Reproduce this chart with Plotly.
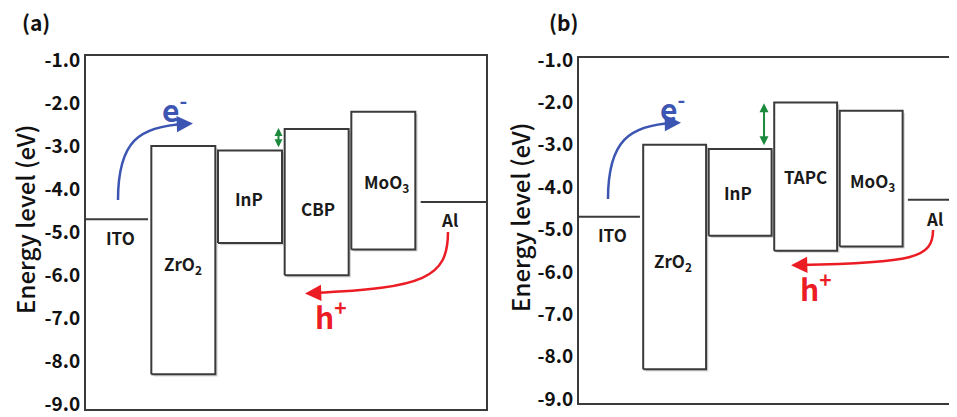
import plotly.graph_objects as go

# ---------------- data ----------------
materials_a = ["ITO", "ZrO2", "InP", "CBP", "MoO3", "Al"]
upper_a = [-4.7, -3.0, -3.1, -2.6, -2.2, -4.3]     # LUMO / work function (eV)
lower_a = [None, -8.3, -5.25, -6.0, -5.4, None]    # HOMO (eV)

materials_b = ["ITO", "ZrO2", "InP", "TAPC", "MoO3", "Al"]
upper_b = [-4.7, -3.0, -3.1, -2.0, -2.2, -4.3]
lower_b = [None, -8.3, -5.15, -5.5, -5.4, None]

y_ticks = [-1.0, -2.0, -3.0, -4.0, -5.0, -6.0, -7.0, -8.0, -9.0]
y_tick_labels = ["-1.0", "-2.0", "-3.0", "-4.0", "-5.0", "-6.0", "-7.0", "-8.0", "-9.0"]

label_html = {"ZrO2": "ZrO<sub>2</sub>", "MoO3": "MoO<sub>3</sub>"}

FONT = "Noto Sans CJK KR, Noto Sans, Arial, sans-serif"
LINE = "#3a3a3a"
BLUE = "#3c55b3"
RED = "#ec1c24"
GREEN = "#1b8a3c"

# page body has an 8px default margin; size the figure to the visible window
OFF = 8
FW, FH = 957 - OFF, 417 - OFF


def fx(px):
    return (px - OFF) / FW


def fy(py):
    return 1 - (py - OFF) / FH


# screen-pixel -> data helpers for decorations (arrows) in each panel
def pa(px, py):
    return ((px - 86) / 66.67, -1 - (py - 60) / 43.06)


def pb(px, py):
    return ((px - 579) / 65.5, -1 - (py - 60) / 42.375)


RANGE_A = [pa(0, 409)[1], pa(0, 56)[1]]
RANGE_B = [pb(0, 403)[1], pb(0, 58)[1]]

fig = go.Figure()


def add_panel(xr, yr, upper, lower, xmax, sdx, sdy):
    n = len(upper)
    for i in range(n):
        if lower[i] is None:
            if i == 0:
                x0, x1 = 0.0, 0.93
            else:
                x0, x1 = i + 0.02, xmax
            fig.add_trace(go.Scatter(x=[x0, x1], y=[upper[i], upper[i]], mode="lines",
                                     line=dict(color=LINE, width=2), xaxis=xr, yaxis=yr,
                                     hoverinfo="skip", showlegend=False))
        else:
            x0, x1 = i - 0.02, i + 0.94
            t, b = upper[i], lower[i]
            fig.add_trace(go.Scatter(x=[x0 + sdx, x1 + sdx, x1 + sdx, x0 + sdx, x0 + sdx],
                                     y=[b - sdy, b - sdy, t - sdy, t - sdy, b - sdy],
                                     mode="lines", fill="toself", fillcolor="rgba(0,0,0,0.16)",
                                     line=dict(width=0, color="rgba(0,0,0,0)"), xaxis=xr, yaxis=yr,
                                     hoverinfo="skip", showlegend=False))
            fig.add_trace(go.Scatter(x=[x0, x1, x1, x0, x0], y=[b, b, t, t, b], mode="lines",
                                     fill="toself", fillcolor="white",
                                     line=dict(color=LINE, width=2), xaxis=xr, yaxis=yr,
                                     hoverinfo="skip", showlegend=False))


add_panel("x", "y", upper_a, lower_a, 6.0, 0.035, 0.05)
add_panel("x2", "y2", upper_b, lower_b, 5.77, 0.035, 0.05)

axis_common = dict(showgrid=False, zeroline=False, showline=True, linecolor=LINE, linewidth=2,
                   ticks="", fixedrange=True, automargin=False)
tickfont = dict(family=FONT, size=19, color="#111")

fig.update_layout(
    width=FW, height=FH,
    margin=dict(l=0, r=0, t=0, b=0, pad=0, autoexpand=False),
    paper_bgcolor="white", plot_bgcolor="white",
    showlegend=False,
    xaxis=dict(domain=[fx(86), fx(486)], range=[0, 6], mirror=True, showticklabels=False,
               anchor="y", **axis_common),
    yaxis=dict(domain=[fy(409), fy(56)], range=RANGE_A, mirror=True, anchor="x",
               tickvals=y_ticks, ticktext=["<b>%s</b>" % t for t in y_tick_labels],
               tickfont=tickfont, ticklabeloverflow="allow", **axis_common),
    xaxis2=dict(domain=[fx(579), 1.0], range=[0, 5.77], mirror=True, showticklabels=False,
                anchor="y2", **axis_common),
    yaxis2=dict(domain=[fy(403), fy(58)], range=RANGE_B, mirror=False, anchor="x2",
                tickvals=y_ticks, ticktext=["<b>%s</b>" % t for t in y_tick_labels],
                tickfont=tickfont, ticklabeloverflow="allow", **axis_common),
)

ann = []


def text_px(px, py, txt, size=17, color="#1a1a1a", angle=0, weight=None):
    font = dict(family=FONT, size=size, color=color)
    if weight is not None:
        font["weight"] = weight
    ann.append(dict(x=fx(px), y=fy(py), xref="paper", yref="paper", text=txt,
                    showarrow=False, textangle=angle, xanchor="center", yanchor="middle",
                    borderpad=0, font=font))


# panel letters and axis titles
text_px(36, 22, "<b>(a)</b>", 21, "#111")
text_px(563, 22, "<b>(b)</b>", 21, "#111")
text_px(25, 220, "Energy level (eV)", 24, "#111", -90, 500)
text_px(519, 218, "Energy level (eV)", 24, "#111", -90, 500)

# layer labels panel a
lab_a = [(120, 237), (183, 264), (249, 198), (318, 208), (386, 183), (449, 219)]
for m, (px, py) in zip(materials_a, lab_a):
    text_px(px, py, "<b>%s</b>" % label_html.get(m, m), 17)
# layer labels panel b
lab_b = [(612, 234), (673, 261), (738, 193), (805, 177), (872, 181), (934, 218)]
for m, (px, py) in zip(materials_b, lab_b):
    text_px(px, py, "<b>%s</b>" % label_html.get(m, m), 17)

# carrier labels
text_px(174, 108, "<b>e<sup>-</sup></b>", 30, BLUE)
text_px(331, 315, "<b>h<sup>+</sup></b>", 30, RED)
text_px(672, 107, "<b>e<sup>-</sup></b>", 30, BLUE)
text_px(816, 287, "<b>h<sup>+</sup></b>", 30, RED)

shapes = []


def curve(xr, yr, conv, p0, c1, c2, p1, color):
    pts = [conv(*p) for p in (p0, c1, c2, p1)]
    flat = tuple(v for p in pts for v in p)
    shapes.append(dict(type="path", xref=xr, yref=yr,
                       path="M %f,%f C %f,%f %f,%f %f,%f" % flat,
                       line=dict(color=color, width=2.5)))


def head(xr, yr, conv, tip, tail, color):
    t = conv(*tip)
    a = conv(*tail)
    ann.append(dict(x=t[0], y=t[1], ax=a[0], ay=a[1], xref=xr, yref=yr,
                    axref=xr, ayref=yr, text="", showarrow=True, arrowhead=2,
                    arrowsize=1.3, arrowwidth=2.5, arrowcolor=color))


# panel a electron / hole paths
curve("x", "y", pa, (118, 200), (118, 141), (139, 126), (186, 124), BLUE)
head("x", "y", pa, (193, 123.6), (182, 124), BLUE)
curve("x", "y", pa, (448, 232), (448, 278), (424, 288), (314, 293), RED)
head("x", "y", pa, (305, 293.4), (316, 293), RED)

# panel b electron / hole paths
curve("x2", "y2", pb, (608, 199), (608, 140), (630, 125), (674, 123), BLUE)
head("x2", "y2", pb, (681, 122.8), (670, 123), BLUE)
curve("x2", "y2", pb, (933, 230), (933, 258), (913, 263), (800, 265), RED)
head("x2", "y2", pb, (791, 265.3), (803, 265), RED)

# green double arrows (barrier between InP LUMO and next layer)
gxa = pa(278.5, 0)[0]
gxb = pb(764, 0)[0]
ann.append(dict(x=gxa, y=upper_a[3] + 0.02, ax=gxa, ay=upper_a[2] + 0.04, xref="x", yref="y",
                axref="x", ayref="y", text="", showarrow=True, arrowhead=2, startarrowhead=2,
                arrowside="end+start", arrowsize=0.8, startarrowsize=0.8, arrowwidth=2,
                arrowcolor=GREEN))
ann.append(dict(x=gxb, y=upper_b[3] - 0.02, ax=gxb, ay=upper_b[2] + 0.05, xref="x2", yref="y2",
                axref="x2", ayref="y2", text="", showarrow=True, arrowhead=2, startarrowhead=2,
                arrowside="end+start", arrowsize=0.9, startarrowsize=0.9, arrowwidth=2,
                arrowcolor=GREEN))

fig.update_layout(annotations=ann, shapes=shapes)
fig.write_html("out.html")
